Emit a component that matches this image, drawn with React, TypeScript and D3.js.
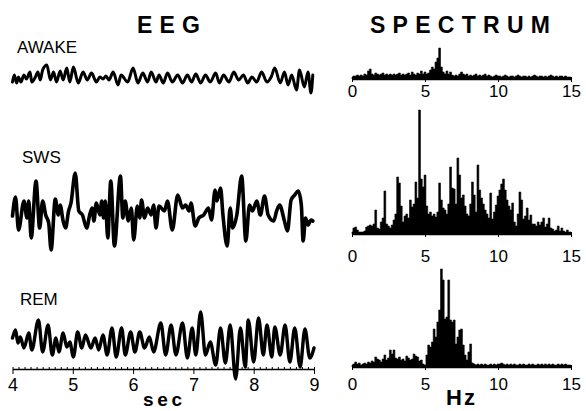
import React, { useEffect, useRef } from "react";
import * as d3 from "d3";

const W = 586;
const H = 411;
const FONT = "'Liberation Sans', Arial, Helvetica, sans-serif";

// EEG traces: [time (s), amplitude] turning points
const awakeTrace: [number, number][] = [
  [4.0, -4], [4.03, 3], [4.07, -5], [4.1, 1], [4.14, -4], [4.19, 3], [4.23, -1], [4.29, 6],
  [4.32, -4], [4.38, 1], [4.42, 6], [4.46, -2], [4.5, 8], [4.57, 13], [4.63, -2], [4.68, 6],
  [4.73, -4], [4.79, 7], [4.84, -2], [4.9, 10], [4.95, -4], [5.01, 11], [5.09, -5], [5.17, 6],
  [5.24, -2], [5.31, 5], [5.39, -4], [5.45, 1], [5.5, -1], [5.55, 2], [5.6, -2], [5.67, 6],
  [5.75, -7], [5.8, 3], [5.91, -4], [6.0, 10], [6.08, -5], [6.16, 5], [6.24, -4], [6.3, 6],
  [6.38, -4], [6.43, 3], [6.5, -5], [6.57, 5], [6.65, -4], [6.74, 3], [6.82, -5], [6.9, 3],
  [6.97, -4], [7.04, 4], [7.12, -5], [7.2, 3], [7.28, -4], [7.37, 5], [7.43, -5], [7.5, 3],
  [7.59, -4], [7.67, 6], [7.75, -2], [7.83, 3], [7.9, -5], [7.97, 1], [8.05, -4], [8.13, 6],
  [8.22, -4], [8.29, 1], [8.35, 10], [8.44, -5], [8.51, 6], [8.57, -7], [8.63, 3], [8.71, -12],
  [8.76, 8], [8.84, -9], [8.9, 6], [8.95, -15], [8.98, 3],
];

const swsTrace: [number, number][] = [
  [4.0, 2], [4.05, 21], [4.1, -12], [4.19, 17], [4.24, 0], [4.27, 17], [4.31, -20], [4.39, 37],
  [4.45, -10], [4.5, 17], [4.55, 3], [4.6, -5], [4.64, -32], [4.71, 19], [4.76, 3], [4.79, 13],
  [4.84, -3], [4.88, -10], [4.93, 7], [4.97, 15], [5.04, 45], [5.1, 7], [5.16, 3], [5.23, -10],
  [5.28, 3], [5.32, 10], [5.35, -3], [5.39, 15], [5.45, 3], [5.48, 17], [5.51, 0], [5.54, 17],
  [5.58, -20], [5.63, 37], [5.69, -28], [5.79, 42], [5.83, 0], [5.87, 17], [5.92, -3], [5.97, 10],
  [6.01, -22], [6.07, 12], [6.11, 0], [6.14, 18], [6.19, 0], [6.24, 10], [6.3, 3], [6.34, 13],
  [6.38, -10], [6.43, 12], [6.52, 7], [6.57, 17], [6.65, -12], [6.74, 23], [6.82, 10], [6.87, 13],
  [6.93, 7], [6.96, 15], [7.03, -8], [7.09, 0], [7.17, 3], [7.25, 10], [7.3, -2], [7.36, 28],
  [7.39, 17], [7.45, 30], [7.49, 3], [7.56, -28], [7.61, 10], [7.65, -10], [7.72, 3], [7.8, 42],
  [7.87, -23], [7.93, 13], [7.98, 7], [8.05, 17], [8.11, 3], [8.18, 22], [8.24, 3], [8.33, -3],
  [8.38, 7], [8.43, 13], [8.51, -3], [8.56, -13], [8.62, 18], [8.68, 23], [8.74, 27], [8.79, 13],
  [8.82, -23], [8.86, 0], [8.9, -7], [8.95, -2], [8.98, -3],
];

const remTrace: [number, number][] = [
  [4.0, 5], [4.05, 13], [4.09, 0], [4.13, 6], [4.19, -5], [4.27, 10], [4.32, -7], [4.43, 23],
  [4.5, -9], [4.59, 18], [4.66, -12], [4.72, 5], [4.77, -9], [4.84, 10], [4.9, -4], [4.95, 1],
  [5.01, -14], [5.08, 11], [5.15, -5], [5.21, 8], [5.3, -5], [5.37, 5], [5.43, -7], [5.5, 8],
  [5.57, -12], [5.65, 15], [5.72, -14], [5.81, 15], [5.87, -12], [5.96, 11], [6.03, -9], [6.11, 11],
  [6.19, -5], [6.27, 6], [6.34, -9], [6.46, 20], [6.54, -12], [6.63, 18], [6.71, -12], [6.82, 20],
  [6.9, -15], [6.98, 15], [7.04, -12], [7.12, 31], [7.2, -12], [7.28, 1], [7.37, -22], [7.45, 15],
  [7.53, -20], [7.61, 18], [7.7, -36], [7.78, 15], [7.86, -24], [7.91, 23], [8.0, -19], [8.08, 25],
  [8.16, -12], [8.22, 18], [8.3, -14], [8.35, 16], [8.44, -12], [8.52, 18], [8.6, -19], [8.68, 15],
  [8.77, -24], [8.85, 14], [8.93, -15], [9.0, -5],
];

// power spectra, 0..15 Hz in 1/8 Hz bins (one row per Hz)
const FREQ_STEP = 0.125;
const awakeSpectrum = [
  2, 3, 3, 4, 3, 4, 3, 5,
  4, 8, 10, 5, 4, 6, 5, 4,
  5, 6, 4, 5, 4, 5, 4, 5,
  4, 5, 6, 4, 5, 4, 5, 6,
  4, 7, 5, 4, 6, 5, 8, 5,
  7, 5, 6, 9, 12, 10, 17, 21,
  31, 12, 7, 5, 8, 5, 7, 4,
  3, 4, 3, 5, 7, 5, 4, 5,
  3, 4, 3, 4, 5, 3, 4, 3,
  4, 5, 3, 4, 3, 2, 3, 4,
  3, 3, 2, 3, 4, 3, 2, 3,
  3, 2, 3, 4, 3, 2, 3, 3,
  2, 3, 2, 3, 4, 3, 2, 3,
  3, 2, 3, 2, 3, 4, 3, 2,
  3, 2, 3, 3, 2, 3, 2, 2,
  2,
];

const swsSpectrum = [
  2, 6, 7, 4, 2, 2, 2, 3,
  7, 8, 9, 8, 10, 24, 6, 5,
  12, 16, 43, 10, 8, 6, 9, 14,
  20, 57, 51, 28, 12, 18, 20, 16,
  34, 27, 30, 52, 36, 124, 55, 47,
  59, 28, 20, 22, 18, 20, 17, 22,
  51, 34, 26, 24, 20, 30, 67, 46,
  45, 30, 76, 59, 36, 39, 28, 20,
  18, 30, 52, 39, 22, 69, 44, 36,
  30, 24, 20, 16, 41, 15, 22, 29,
  38, 44, 50, 55, 44, 34, 28, 24,
  31, 12, 8, 20, 42, 34, 15, 18,
  26, 14, 19, 10, 10, 8, 12, 9,
  12, 16, 7, 10, 16, 6, 5, 3,
  4, 8, 3, 6, 3, 2, 4, 2,
  2,
];

const remSpectrum = [
  2, 3, 5, 3, 4, 2, 3, 4,
  3, 5, 4, 6, 5, 10, 8, 7,
  5, 8, 12, 7, 9, 17, 13, 17,
  9, 8, 10, 7, 8, 6, 11, 9,
  7, 8, 13, 11, 10, 6, 7, 3,
  2, 12, 22, 20, 25, 38, 30, 45,
  57, 98, 87, 48, 50, 87, 47, 45,
  47, 23, 30, 37, 38, 22, 12, 7,
  15, 23, 4, 3, 2, 3, 2, 3,
  2, 3, 2, 2, 3, 2, 3, 2,
  3, 3, 4, 3, 2, 3, 2, 3,
  2, 3, 2, 2, 3, 2, 3, 2,
  2, 3, 2, 3, 2, 2, 3, 2,
  3, 2, 3, 2, 3, 2, 3, 2,
  2, 3, 2, 3, 2, 3, 2, 2,
  2,
];

const secTicks = [4, 5, 6, 7, 8, 9];
const hzTicks = [0, 5, 10, 15];

export default function App() {
  const svgRef = useRef<SVGSVGElement>(null);

  useEffect(() => {
    const svg = d3.select(svgRef.current);
    svg.selectAll("*").remove();

    // titles
    svg.append("text").attr("x", 137).attr("y", 33).attr("textLength", 63)
      .attr("lengthAdjust", "spacing").style("font", `bold 23px ${FONT}`).text("EEG");
    svg.append("text").attr("x", 370).attr("y", 33).attr("textLength", 180)
      .attr("lengthAdjust", "spacing").style("font", `bold 23px ${FONT}`).text("SPECTRUM");

    // ---- EEG traces
    const x = d3.scaleLinear().domain([4, 9]).range([12.5, 314]);
    const eegRows = [
      { label: "AWAKE", data: awakeTrace, cy: 78, lx: 17, ly: 53, sw: 3 },
      { label: "SWS", data: swsTrace, cy: 218, lx: 22, ly: 163, sw: 3.6 },
      { label: "REM", data: remTrace, cy: 343, lx: 20, ly: 305, sw: 3.4 },
    ];

    eegRows.forEach(row => {
      const y = d3.scaleLinear().domain([-50, 50]).range([row.cy + 50, row.cy - 50]);
      const line = d3.line<[number, number]>()
        .x(d => x(d[0]))
        .y(d => y(d[1]))
        .curve(d3.curveMonotoneX);
      svg.append("path")
        .attr("d", line(row.data))
        .attr("fill", "none")
        .attr("stroke", "#000")
        .attr("stroke-width", row.sw)
        .attr("stroke-linejoin", "round")
        .attr("stroke-linecap", "round");
      svg.append("text").attr("x", row.lx).attr("y", row.ly)
        .style("font", `17px ${FONT}`).text(row.label);
    });

    // time axis
    const minor = svg.append("g").attr("transform", "translate(0,369)")
      .call(d3.axisBottom(x).tickValues(d3.range(40, 91).map(d => d / 10)).tickSize(-2).tickFormat(() => ""));
    minor.select(".domain").remove();
    const tAxis = svg.append("g").attr("transform", "translate(0,369)")
      .call(d3.axisBottom(x).tickValues(secTicks).tickSize(5).tickSizeOuter(0).tickPadding(4)
        .tickFormat(d3.format("d")));
    tAxis.select(".domain").attr("stroke-width", 1.5);
    tAxis.selectAll("text").style("font", `18px ${FONT}`).attr("fill", "#000");
    svg.append("text").attr("x", 143).attr("y", 406).attr("textLength", 39)
      .attr("lengthAdjust", "spacing").style("font", `bold 19px ${FONT}`).text("sec");

    // ---- spectra
    const fx = d3.scaleLinear().domain([0, 15]).range([352, 571]);
    const specRows = [
      { data: awakeSpectrum, base: 79, pad: 3 },
      { data: swsSpectrum, base: 234, pad: 13 },
      { data: remSpectrum, base: 367, pad: 8 },
    ];

    specRows.forEach(row => {
      const fy = d3.scaleLinear().domain([0, 130]).range([row.base, row.base - 130]);
      const area = d3.area<number>()
        .x((_, i) => fx(i * FREQ_STEP))
        .y0(fy(0))
        .y1(d => fy(d))
        .curve(d3.curveStep);
      svg.append("path").attr("d", area(row.data)).attr("fill", "#000")
        .attr("stroke", "#000").attr("stroke-width", 0.6);

      const mg = svg.append("g").attr("transform", `translate(0,${row.base})`)
        .call(d3.axisBottom(fx).tickValues(d3.range(0, 31).map(d => d / 2)).tickSize(-2).tickFormat(() => ""));
      mg.select(".domain").remove();
      const ax = svg.append("g").attr("transform", `translate(0,${row.base})`)
        .call(d3.axisBottom(fx).tickValues(hzTicks).tickSize(3).tickSizeOuter(0).tickPadding(row.pad));
      ax.select(".domain").attr("stroke-width", 1.5);
      ax.selectAll("text").style("font", `17px ${FONT}`).attr("fill", "#000");
    });

    svg.append("text").attr("x", 446).attr("y", 405).attr("textLength", 29)
      .attr("lengthAdjust", "spacing").style("font", `bold 22px ${FONT}`).text("Hz");
  }, []);

  return (
    <svg
      ref={svgRef}
      width={W}
      height={H}
      style={{ position: "absolute", left: 0, top: 0, background: "#fff" }}
    />
  );
}
